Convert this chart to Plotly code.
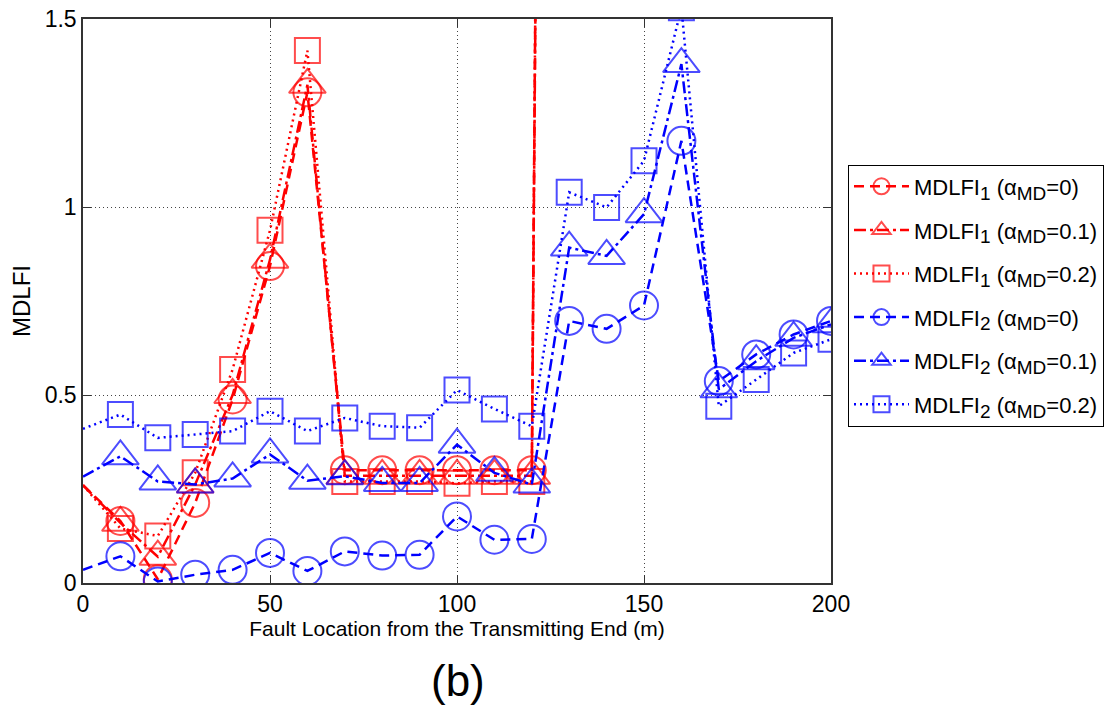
import plotly.graph_objects as go

# ---- data ----
x_red = [0, 10, 20, 30, 40, 50, 60, 70, 80, 90, 100, 110, 120, 130]
red_a0 = [0.26, 0.165, 0.01, 0.213, 0.488, 0.843, 1.305, 0.30, 0.30, 0.30, 0.30, 0.30, 0.30, 13.5]
red_a01 = [0.26, 0.16, 0.07, 0.262, 0.50, 0.86, 1.325, 0.285, 0.285, 0.285, 0.285, 0.285, 0.285, 13.0]
red_a02 = [0.26, 0.145, 0.125, 0.293, 0.568, 0.938, 1.416, 0.27, 0.27, 0.27, 0.265, 0.27, 0.27, 13.8]

x_blue = [0, 10, 20, 30, 40, 50, 60, 70, 80, 90, 100, 110, 120, 130, 140, 150, 160, 170, 180, 190, 200]
blue_a0 = [0.035, 0.071, 0.004, 0.022, 0.035, 0.08, 0.032, 0.084, 0.073, 0.075, 0.177, 0.115, 0.117,
           0.697, 0.676, 0.738, 1.176, 0.537, 0.608, 0.661, 0.697]
blue_a01 = [0.283, 0.337, 0.27, 0.262, 0.278, 0.342, 0.272, 0.284, 0.266, 0.266, 0.368, 0.293, 0.262,
            0.892, 0.87, 0.981, 1.38, 0.515, 0.59, 0.652, 0.688]
blue_a02 = [0.41, 0.448, 0.386, 0.395, 0.404, 0.457, 0.404, 0.439, 0.417, 0.413, 0.513, 0.463, 0.417,
            1.039, 0.999, 1.123, 1.53, 0.47, 0.541, 0.612, 0.648]

SUB = '<sub><span style="font-size:19px">{}</span></sub>'
names = [
    "MDLFI" + SUB.format("1") + " (α" + SUB.format("MD") + "=0)",
    "MDLFI" + SUB.format("1") + " (α" + SUB.format("MD") + "=0.1)",
    "MDLFI" + SUB.format("1") + " (α" + SUB.format("MD") + "=0.2)",
    "MDLFI" + SUB.format("2") + " (α" + SUB.format("MD") + "=0)",
    "MDLFI" + SUB.format("2") + " (α" + SUB.format("MD") + "=0.1)",
    "MDLFI" + SUB.format("2") + " (α" + SUB.format("MD") + "=0.2)",
]
x_ticks = [0, 50, 100, 150, 200]
y_ticks = [0, 0.5, 1, 1.5]
y_ticktext = ["0", "0.5", "1", "1.5"]

RED = "#FF0000"
BLUE = "#0000FF"
FONT = "Liberation Sans, Arial, sans-serif"

styles = [
    (x_red, red_a0, RED, "circle-open", 28, "10px,6px"),
    (x_red, red_a01, RED, "triangle-up-open", 32, "12px,4px,3px,4px"),
    (x_red, red_a02, RED, "square-open", 25, "2px,4px"),
    (x_blue, blue_a0, BLUE, "circle-open", 28, "10px,6px"),
    (x_blue, blue_a01, BLUE, "triangle-up-open", 32, "12px,4px,3px,4px"),
    (x_blue, blue_a02, BLUE, "square-open", 25, "2px,4px"),
]

fig = go.Figure()
for i, (xs, ys, col, sym, sz, dash) in enumerate(styles):
    sizes = [0 if xv == 0 else sz for xv in xs]
    fig.add_trace(go.Scatter(
        x=xs, y=ys, name=names[i], mode="lines+markers",
        legendgroup=str(i),
        line=dict(color=col, width=2.5, dash=dash),
        marker=dict(symbol=sym, size=sizes, color=col, line=dict(color=col, width=2)),
        cliponaxis=True,
    ))

axis_common = dict(
    showline=True, linecolor="#333333", linewidth=1.5, mirror="ticks",
    ticks="inside", ticklen=8, tickwidth=1.2, tickcolor="#333333",
    showgrid=True, gridcolor="#444444", gridwidth=1, griddash="1px,3px",
    zeroline=False, tickfont=dict(family=FONT, size=23, color="black"),
    ticklabeloverflow="allow",
)

fig.update_xaxes(range=[0, 200], tickvals=x_ticks,
                 title=dict(text="Fault Location from the Transmitting End (m)",
                            font=dict(family=FONT, size=21, color="black"), standoff=4),
                 **axis_common)
fig.update_yaxes(range=[0, 1.5], tickvals=y_ticks, ticktext=y_ticktext,
                 title=dict(text="MDLFI", font=dict(family=FONT, size=24, color="black"), standoff=12),
                 **axis_common)

fig.add_annotation(text="(b)", xref="paper", yref="paper", x=0.501, y=-0.172,
                   showarrow=False, font=dict(family=FONT, size=44, color="black"),
                   xanchor="center", yanchor="middle")

# page body has an 8px margin, so the figure is 8px smaller than the window
fig.update_layout(
    width=1109, height=698,
    margin=dict(l=75, r=286, t=11, b=123, autoexpand=False),
    plot_bgcolor="white", paper_bgcolor="white",
    legend=dict(x=1.0227, y=0.742, xanchor="left", yanchor="top",
                bordercolor="black", borderwidth=1, bgcolor="white",
                font=dict(family=FONT, size=22, color="black"),
                tracegroupgap=12, itemwidth=55, traceorder="grouped"),
)

fig.write_html("out.html")
